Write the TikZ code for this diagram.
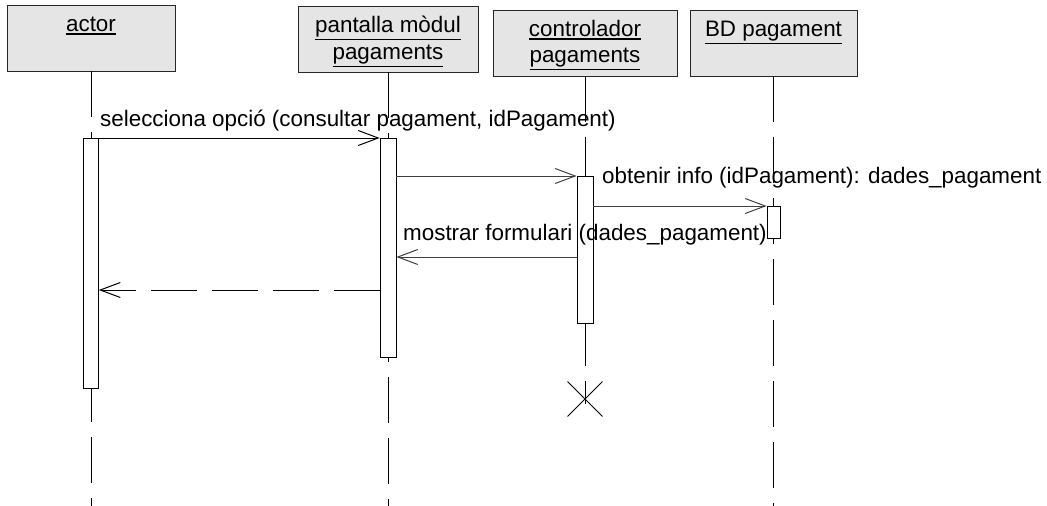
\documentclass[tikz,border=0pt]{standalone}
\usepackage{fontspec}
\setmainfont{Liberation Sans}
\usetikzlibrary{arrows.meta,shapes.misc}
\newcommand\ulbox[1]{\leavevmode\vtop{\hbox{#1}\kern1.5pt\hrule height 1.2pt}}
\begin{document}
\begin{tikzpicture}[x=1pt,y=-1pt,
  objbox/.style={draw=black!85, line width=0.8pt, fill=black!10, inner sep=0pt, minimum height=66pt},
  lbl/.style={font=\fontsize{22.4}{27}\selectfont, inner sep=0pt, anchor=base},
  msglbl/.style={font=\fontsize{22.4}{27}\selectfont, inner sep=0pt, anchor=base west},
  life/.style={draw=black, line width=0.9pt, dash pattern=on 46pt off 15pt},
  actbar/.style={draw=black, line width=0.8pt, fill=white, inner sep=0pt, anchor=north},
  msg/.style={draw=black, line width=1pt, -{Straight Barb[length=20pt,width=15pt]}},
  msgthin/.style={draw=black!75, line width=0.8pt, -{Straight Barb[length=20pt,width=15pt,line width=1pt]}},
  destroy/.style={cross out, draw=black, line width=0.9pt, minimum size=34pt, inner sep=0pt}
]
\useasboundingbox (0,0) rectangle (1047,506);

% object boxes
\node[objbox, minimum width=168pt] (abox) at (91,38) {};
\node[objbox, minimum width=180pt] (pbox) at (388,39) {};
\node[objbox, minimum width=184pt] (cbox) at (585,43) {};
\node[objbox, minimum width=167pt] (bbox) at (773.5,43) {};

\node[lbl] (alab) at ([yshift=-27pt]abox.north) {\ulbox{actor}};
\node[lbl] (plab1) at ([yshift=-27pt]pbox.north) {\ulbox{pantalla mòdul}};
\node[lbl] (plab2) at ([yshift=-54pt]pbox.north) {\ulbox{pagaments}};
\node[lbl] (clab1) at ([yshift=-27pt]cbox.north) {\ulbox{controlador}};
\node[lbl] (clab2) at ([yshift=-53pt]cbox.north) {\ulbox{pagaments}};
\node[lbl] (blab) at ([yshift=-27pt]bbox.north) {\ulbox{BD pagament}};

% lifeline ends
\coordinate (aend) at (91,506);
\coordinate (pend) at (388,506);
\coordinate (cend) at (585,404);
\coordinate (bend) at (773.5,506);

\draw[life] (abox.south) -- (aend);
\draw[life] (pbox.south) -- (pend);
\draw[life] (cbox.south) -- (cend);
\draw[life] (bbox.south) -- (bend);

% destruction
\node[destroy] (xd) at (585,399) {};

% activation bars
\node[actbar, minimum width=15pt, minimum height=250pt] (abar) at (91,138) {};
\node[actbar, minimum width=16pt, minimum height=219pt] (pbar) at (388,138) {};
\node[actbar, minimum width=16pt, minimum height=147pt] (cbar) at (585,176) {};
\node[actbar, minimum width=13pt, minimum height=32pt] (bbar) at (773.5,206) {};

% message levels
\coordinate (r1) at (0,257);
\coordinate (r2) at (0,290);

% messages
\draw[msg] (abar.north east) -- (pbar.north west);
\draw[msgthin] (pbar.east |- cbar.north) -- (cbar.north west);
\draw[msgthin] (cbar.east |- bbar.north) -- (bbar.north west);
\draw[msgthin] (cbar.west |- r1) -- (pbar.east |- r1);
\draw[msg, dash pattern=on 46pt off 15pt] (pbar.west |- r2) -- (abar.east |- r2);

% message labels
\node[msglbl] (l1) at (100,126) {selecciona opció (consultar pagament, idPagament)};
\node[msglbl] (l2) at (602,183) {obtenir info (idPagament): dades\_pagament};
\node[msglbl] (l3) at (403,240) {mostrar formulari (dades\_pagament)};
\end{tikzpicture}
\end{document}
